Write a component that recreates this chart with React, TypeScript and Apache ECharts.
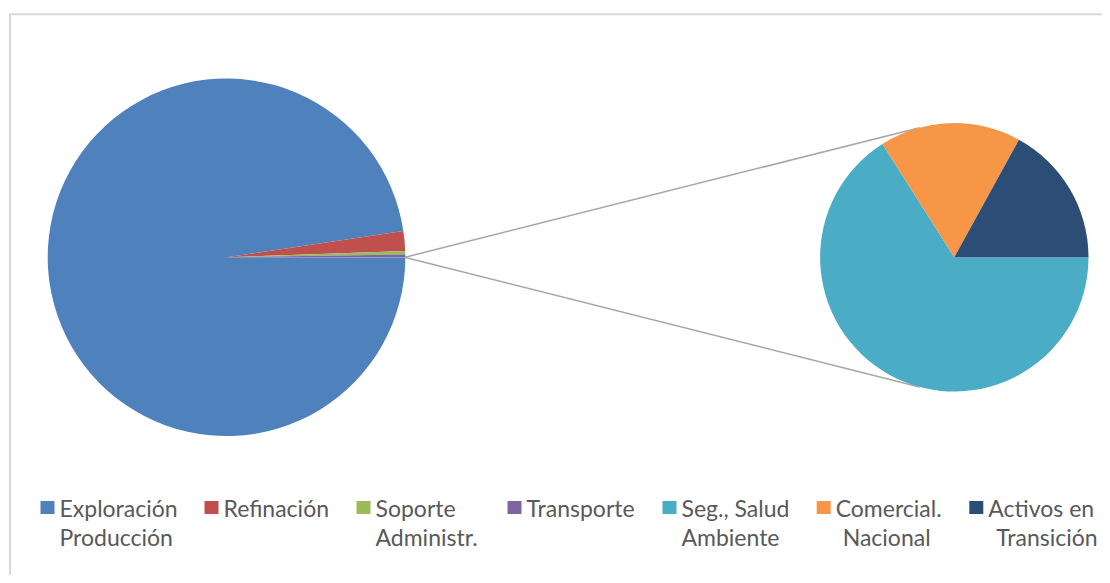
import React, { useEffect, useRef } from "react";
import * as echarts from "echarts";

// ---- data ----
const primaryNames = ["Exploración\nProducción", "Refinación", "Soporte\nAdministr.", "Transporte"];
const primaryValues = [97.64, 1.78, 0.31, 0.25];
const secondaryNames = ["Seg., Salud\nAmbiente", "Comercial.\nNacional", "Activos en\nTransición"];
const secondaryValues = [0.0132, 0.0034, 0.0034];
const otherName = "Otro";

// ---- styles / layout ----
const primaryColors = ["#4F81BD", "#C0504D", "#9BBB59", "#8064A2"];
const secondaryColors = ["#4BACC6", "#F79646", "#2C4D75"];
const otherColor = "#4BACC6";
const legendIconLeft = [32.5, 196.5, 348.5, 499.5, 654.5, 808.7, 961.3];
const secondLineOffset = [0, 0, 0, 0, 0, 7, 8];
const legendIconTop = 493;
const mainCenter = [218.5, 249.3];
const mainRadius = 178.8;
const subCenter = [946.3, 249.3];
const subRadius = 134.2;
const connectorAngle = 105; // degrees on secondary pie
const LINE_H = 29;
const FONT_SIZE = 23;
const ICON_W = 14;
const ICON_H = 13;
const TEXT_COLOR = "#595959";
const FONT_FAMILY = "Lato";

export default function App() {
  const ref = useRef<HTMLDivElement>(null);
  useEffect(() => {
    if (!ref.current) return;
    const chart = echarts.init(ref.current, undefined, { renderer: "svg" });

    const otherValue = secondaryValues.reduce((a, b) => a + b, 0);
    const total = primaryValues.reduce((a, b) => a + b, 0) + otherValue;
    const otherDeg = (otherValue / total) * 360;
    const mainStart = 360 - otherDeg / 2;

    const allNames = [...primaryNames, ...secondaryNames];
    const legends = allNames.map((name, i) => ({
      data: [name],
      left: legendIconLeft[i],
      top: legendIconTop - (LINE_H / 2 - ICON_H / 2),
      padding: 0,
      itemWidth: ICON_W,
      itemHeight: ICON_H,
      icon: "rect",
      selectedMode: false,
      formatter: (n: string) => n.split("\n")[0],
      textStyle: {
        color: TEXT_COLOR,
        fontFamily: FONT_FAMILY,
        fontSize: FONT_SIZE,
        lineHeight: LINE_H,
      },
    }));

    const secondLines: any[] = [];
    allNames.forEach((name, i) => {
      const parts = name.split("\n");
      parts.slice(1).forEach((line, k) => {
        secondLines.push({
          type: "text",
          silent: true,
          style: {
            text: line,
            x: legendIconLeft[i] + ICON_W + 5 + secondLineOffset[i],
            y: legendIconTop + ICON_H / 2 + LINE_H * (k + 1),
            fill: TEXT_COLOR,
            font: `${FONT_SIZE}px ${FONT_FAMILY}`,
            align: "left",
            verticalAlign: "middle",
          },
        });
      });
    });

    const rad = (d: number) => (d * Math.PI) / 180;
    const a1 = rad(otherDeg / 2);
    const p1 = [mainCenter[0] + mainRadius * Math.cos(a1), mainCenter[1] - mainRadius * Math.sin(a1)];
    const p2 = [mainCenter[0] + mainRadius * Math.cos(a1), mainCenter[1] + mainRadius * Math.sin(a1)];
    const ca = rad(connectorAngle);
    const q1 = [subCenter[0] + subRadius * Math.cos(ca), subCenter[1] - subRadius * Math.sin(ca)];
    const q2 = [subCenter[0] + subRadius * Math.cos(ca), subCenter[1] + subRadius * Math.sin(ca)];

    chart.setOption({
      animation: false,
      backgroundColor: "#ffffff",
      legend: legends,
      graphic: [
        {
          type: "rect",
          silent: true,
          z: -10,
          shape: { x: 2, y: 6.3, width: 1200, height: 700 },
          style: { fill: "none", stroke: "#d9d9d9", lineWidth: 2 },
        },
        {
          type: "line",
          silent: true,
          shape: { x1: p1[0], y1: p1[1], x2: q1[0], y2: q1[1] },
          style: { stroke: "#a6a6a6", lineWidth: 1.5 },
        },
        {
          type: "line",
          silent: true,
          shape: { x1: p2[0], y1: p2[1], x2: q2[0], y2: q2[1] },
          style: { stroke: "#a6a6a6", lineWidth: 1.5 },
        },
        ...secondLines,
      ],
      series: [
        {
          type: "pie",
          center: mainCenter,
          radius: [0, mainRadius],
          startAngle: mainStart,
          clockwise: true,
          label: { show: false },
          labelLine: { show: false },
          emphasis: { disabled: true },
          silent: true,
          data: [
            ...primaryNames.map((n, i) => ({
              name: n,
              value: primaryValues[i],
              itemStyle: { color: primaryColors[i] },
            })),
            { name: otherName, value: otherValue, itemStyle: { color: otherColor } },
          ],
        },
        {
          type: "pie",
          center: subCenter,
          radius: [0, subRadius],
          startAngle: 0,
          clockwise: true,
          label: { show: false },
          labelLine: { show: false },
          emphasis: { disabled: true },
          silent: true,
          data: secondaryNames.map((n, i) => ({
            name: n,
            value: secondaryValues[i],
            itemStyle: { color: secondaryColors[i] },
          })),
        },
      ],
    });
    return () => chart.dispose();
  }, []);
  return <div ref={ref} style={{ width: 1094, height: 567 }} />;
}
